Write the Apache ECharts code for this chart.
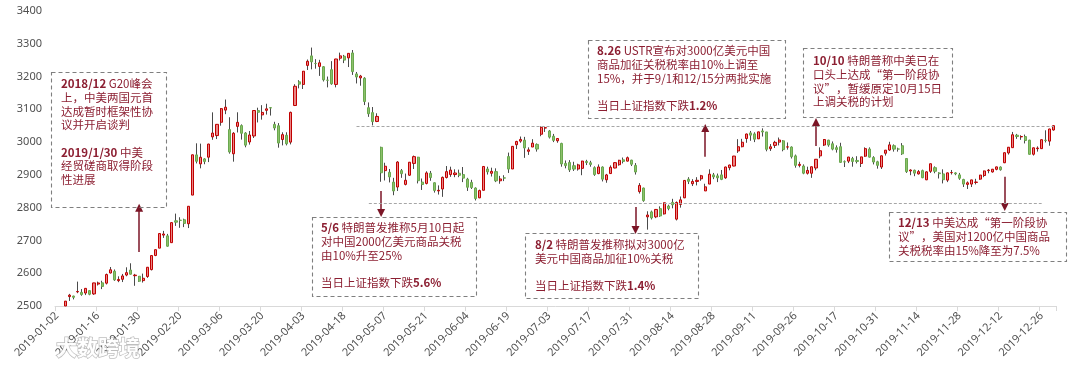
<!DOCTYPE html>
<html>
<head>
<meta charset="utf-8">
<script src="https://cdn.jsdelivr.net/npm/echarts@6/dist/echarts.min.js"></script>
<style>
html,body{margin:0;padding:0;background:#fff;}
#chart{width:1080px;height:366px;}
</style>
</head>
<body>
<div id="chart"></div>
<script>
// ---- data: Shanghai Composite daily candles, 2019 ----
const dates = [
'2019-01-02','2019-01-03','2019-01-04','2019-01-07','2019-01-08','2019-01-09','2019-01-10','2019-01-11','2019-01-14','2019-01-15',
'2019-01-16','2019-01-17','2019-01-18','2019-01-21','2019-01-22','2019-01-23','2019-01-24','2019-01-25','2019-01-28','2019-01-29',
'2019-01-30','2019-01-31','2019-02-01','2019-02-11','2019-02-12','2019-02-13','2019-02-14','2019-02-15','2019-02-18','2019-02-19',
'2019-02-20','2019-02-21','2019-02-22','2019-02-25','2019-02-26','2019-02-27','2019-02-28','2019-03-01','2019-03-04','2019-03-05',
'2019-03-06','2019-03-07','2019-03-08','2019-03-11','2019-03-12','2019-03-13','2019-03-14','2019-03-15','2019-03-18','2019-03-19',
'2019-03-20','2019-03-21','2019-03-22','2019-03-25','2019-03-26','2019-03-27','2019-03-28','2019-03-29','2019-04-01','2019-04-02',
'2019-04-03','2019-04-04','2019-04-08','2019-04-09','2019-04-10','2019-04-11','2019-04-12','2019-04-15','2019-04-16','2019-04-17',
'2019-04-18','2019-04-19','2019-04-22','2019-04-23','2019-04-24','2019-04-25','2019-04-26','2019-04-29','2019-04-30','2019-05-06',
'2019-05-07','2019-05-08','2019-05-09','2019-05-10','2019-05-13','2019-05-14','2019-05-15','2019-05-16','2019-05-17','2019-05-20',
'2019-05-21','2019-05-22','2019-05-23','2019-05-24','2019-05-27','2019-05-28','2019-05-29','2019-05-30','2019-05-31','2019-06-03',
'2019-06-04','2019-06-05','2019-06-06','2019-06-10','2019-06-11','2019-06-12','2019-06-13','2019-06-14','2019-06-17','2019-06-18',
'2019-06-19','2019-06-20','2019-06-21','2019-06-24','2019-06-25','2019-06-26','2019-06-27','2019-06-28','2019-07-01','2019-07-02',
'2019-07-03','2019-07-04','2019-07-05','2019-07-08','2019-07-09','2019-07-10','2019-07-11','2019-07-12','2019-07-15','2019-07-16',
'2019-07-17','2019-07-18','2019-07-19','2019-07-22','2019-07-23','2019-07-24','2019-07-25','2019-07-26','2019-07-29','2019-07-30',
'2019-07-31','2019-08-01','2019-08-02','2019-08-05','2019-08-06','2019-08-07','2019-08-08','2019-08-09','2019-08-12','2019-08-13',
'2019-08-14','2019-08-15','2019-08-16','2019-08-19','2019-08-20','2019-08-21','2019-08-22','2019-08-23','2019-08-26','2019-08-27',
'2019-08-28','2019-08-29','2019-08-30','2019-09-02','2019-09-03','2019-09-04','2019-09-05','2019-09-06','2019-09-09','2019-09-10',
'2019-09-11','2019-09-12','2019-09-16','2019-09-17','2019-09-18','2019-09-19','2019-09-20','2019-09-23','2019-09-24','2019-09-25',
'2019-09-26','2019-09-27','2019-09-30','2019-10-08','2019-10-09','2019-10-10','2019-10-11','2019-10-14','2019-10-15','2019-10-16',
'2019-10-17','2019-10-18','2019-10-21','2019-10-22','2019-10-23','2019-10-24','2019-10-25','2019-10-28','2019-10-29','2019-10-30',
'2019-10-31','2019-11-01','2019-11-04','2019-11-05','2019-11-06','2019-11-07','2019-11-08','2019-11-11','2019-11-12','2019-11-13',
'2019-11-14','2019-11-15','2019-11-18','2019-11-19','2019-11-20','2019-11-21','2019-11-22','2019-11-25','2019-11-26','2019-11-27',
'2019-11-28','2019-11-29','2019-12-02','2019-12-03','2019-12-04','2019-12-05','2019-12-06','2019-12-09','2019-12-10','2019-12-11',
'2019-12-12','2019-12-13','2019-12-16','2019-12-17','2019-12-18','2019-12-19','2019-12-20','2019-12-23','2019-12-24','2019-12-25',
'2019-12-26','2019-12-27','2019-12-30','2019-12-31'
];
const openV = [
2497.88,2461.78,2446.02,2528.70,2530.30,2543.10,2541.65,2539.55,2546.89,2536.89,
2566.95,2570.74,2569.62,2600.76,2606.10,2577.41,2581.50,2594.42,2609.78,2592.44,
2590.84,2577.42,2589.94,2611.00,2654.08,2676.55,2716.28,2714.01,2693.23,2760.02,
2761.77,2763.23,2751.00,2838.38,2961.00,2933.60,2948.78,2954.04,3015.94,3019.95,
3060.57,3097.68,3038.28,2964.42,3048.00,3050.46,3027.74,3000.38,3018.74,3096.35,
3083.08,3097.01,3105.00,3054.00,3050.00,3008.00,3021.00,3000.00,3111.66,3184.00,
3176.00,3234.00,3263.00,3240.00,3231.00,3230.00,3189.00,3221.00,3176.00,3256.00,
3262.00,3257.00,3272.00,3208.00,3196.00,3195.00,3105.00,3090.00,3063.00,2984.00,
2913.00,2908.00,2878.00,2863.00,2913.00,2871.00,2899.00,2935.00,2954.00,2878.00,
2874.00,2905.00,2876.00,2851.00,2857.00,2892.00,2901.00,2901.00,2905.00,2901.00,
2887.00,2877.00,2860.00,2830.00,2853.00,2918.00,2905.00,2910.00,2882.00,2891.00,
2956.00,2918.00,2992.00,3003.00,3006.00,2972.00,2985.00,2993.00,3024.00,3043.00,
3034.00,3018.00,3004.00,2996.00,2935.00,2938.00,2928.00,2918.00,2920.00,2941.00,
2937.00,2922.00,2904.00,2924.00,2885.00,2904.00,2921.00,2931.00,2946.00,2942.00,
2945.00,2929.00,2849.00,2860.00,2772.00,2787.00,2772.00,2797.00,2781.00,2805.00,
2816.00,2765.00,2810.00,2830.00,2887.00,2873.00,2880.00,2888.00,2851.00,2872.00,
2900.00,2897.00,2900.00,2891.00,2922.00,2927.00,2973.00,2986.00,3011.00,3028.00,
3025.00,3010.00,3034.00,3031.00,2980.00,2990.00,3000.00,3004.00,2985.00,2985.00,
2958.00,2929.00,2927.00,2905.00,2905.00,2921.00,2958.00,2991.00,3006.00,2995.00,
2983.00,2986.00,2940.00,2942.00,2950.00,2944.00,2935.00,2957.00,2979.00,2953.00,
2940.00,2924.00,2966.00,2976.00,2989.00,2979.00,2989.00,2950.00,2912.00,2914.00,
2903.00,2913.00,2885.00,2911.00,2922.00,2906.00,2903.00,2884.00,2907.00,2906.00,
2900.00,2886.00,2871.00,2872.00,2877.00,2887.00,2898.00,2913.00,2909.00,2917.00,
2924.00,2937.00,2967.00,2983.00,3021.00,3016.00,3017.00,3006.00,2963.00,2980.00,
2980.00,3006.00,3003.00,3037.00
];
const closeV = [
2465.29,2464.36,2514.87,2533.09,2526.46,2544.34,2535.10,2553.83,2535.77,2570.42,
2570.34,2559.64,2596.01,2610.51,2579.70,2581.00,2591.69,2601.72,2596.98,2594.25,
2575.58,2584.57,2618.23,2653.90,2671.89,2721.07,2719.70,2682.39,2754.36,2755.65,
2761.22,2751.80,2804.23,2961.28,2941.52,2953.82,2940.95,2994.01,3027.58,3054.25,
3102.10,3106.42,2969.86,3026.99,3060.31,3026.95,2990.69,3021.75,3096.42,3090.98,
3090.64,3101.46,3104.15,3043.03,2997.10,3022.72,2994.94,3090.76,3170.36,3176.82,
3216.30,3246.57,3244.81,3239.66,3241.93,3189.96,3188.63,3177.79,3253.60,3263.12,
3250.20,3270.80,3215.04,3198.59,3201.61,3123.83,3086.40,3062.50,3078.34,2906.46,
2926.39,2893.76,2850.95,2939.21,2903.71,2883.61,2938.68,2955.71,2882.30,2870.60,
2905.97,2891.70,2852.52,2852.99,2892.38,2909.91,2914.70,2905.81,2898.70,2890.08,
2862.28,2861.42,2827.80,2852.13,2925.72,2909.38,2910.74,2881.97,2887.62,2890.16,
2917.80,2987.12,3001.98,3008.15,2982.07,2976.28,2996.79,2978.88,3044.90,3043.94,
3015.26,3005.25,3011.06,2933.36,2928.23,2915.30,2917.76,2930.55,2942.19,2937.62,
2931.69,2901.13,2924.20,2886.97,2899.94,2923.28,2937.36,2944.54,2941.01,2952.34,
2932.51,2908.77,2867.84,2821.50,2777.56,2768.68,2794.55,2774.75,2814.99,2797.26,
2808.91,2815.80,2823.82,2883.10,2880.33,2880.00,2883.44,2897.43,2863.57,2902.19,
2893.76,2890.92,2886.24,2924.11,2930.15,2957.41,2985.86,2999.60,3024.74,3021.20,
3008.81,3031.24,3030.75,2978.12,2985.66,2999.28,3006.45,2977.08,2985.34,2955.43,
2929.09,2932.17,2905.19,2913.57,2924.86,2947.71,2973.66,3007.88,2991.05,2978.71,
2977.33,2938.14,2939.62,2954.38,2940.92,2940.91,2954.93,2980.05,2954.18,2939.32,
2929.06,2958.20,2975.49,2991.56,2978.60,2978.71,2964.18,2909.97,2914.82,2905.24,
2909.87,2891.34,2909.20,2933.99,2911.05,2903.64,2885.29,2906.17,2907.06,2903.19,
2889.69,2871.98,2875.81,2884.70,2878.12,2899.47,2912.01,2914.48,2917.32,2924.42,
2915.70,2967.68,2984.39,3022.42,3017.04,3017.07,3004.94,2962.75,2982.68,2981.88,
3007.35,3005.04,3040.02,3050.12
];
const lowV = [
2456.42,2440.91,2440.91,2515.51,2520.17,2539.05,2531.25,2533.36,2532.81,2534.02,
2562.51,2551.55,2565.72,2599.13,2576.61,2572.65,2573.06,2590.69,2596.38,2561.65,
2573.75,2571.55,2585.85,2608.53,2652.02,2676.55,2707.71,2680.89,2693.23,2744.40,
2738.47,2740.71,2737.75,2838.38,2934.98,2920.01,2932.48,2939.08,3006.98,3009.32,
3050.09,3085.27,2964.82,2940.35,3029.40,3007.68,2984.16,2992.36,3012.55,3060.00,
3068.51,3084.00,3081.00,3036.00,2983.00,2990.00,2990.00,2993.00,3110.00,3164.00,
3162.00,3220.00,3222.00,3224.00,3202.00,3185.00,3167.00,3175.00,3167.00,3249.00,
3241.00,3229.00,3205.00,3179.00,3172.00,3113.00,3077.00,3051.00,3061.00,2879.00,
2883.00,2877.00,2838.00,2851.00,2891.00,2868.00,2897.00,2918.00,2874.00,2854.00,
2871.00,2882.00,2846.00,2840.00,2833.00,2889.00,2894.00,2893.00,2893.00,2878.00,
2851.00,2857.00,2822.00,2829.00,2853.00,2901.00,2895.00,2878.00,2873.00,2881.00,
2906.00,2918.00,2979.00,2998.00,2952.00,2961.00,2985.00,2971.00,3018.00,3031.00,
3011.00,3000.00,2998.00,2925.00,2920.00,2909.00,2912.00,2913.00,2899.00,2930.00,
2925.00,2897.00,2902.00,2880.00,2876.00,2903.00,2920.00,2928.00,2935.00,2941.00,
2927.00,2901.00,2843.00,2818.00,2733.00,2764.00,2768.00,2772.00,2779.00,2792.00,
2798.00,2761.00,2800.00,2829.00,2872.00,2866.00,2868.00,2882.00,2851.00,2872.00,
2887.00,2878.00,2884.00,2888.00,2914.00,2926.00,2967.00,2984.00,2998.00,3004.00,
3000.00,3010.00,3017.00,2972.00,2973.00,2982.00,2990.00,2972.00,2977.00,2950.00,
2922.00,2923.00,2902.00,2901.00,2891.00,2914.00,2951.00,2988.00,2986.00,2975.00,
2968.00,2937.00,2924.00,2936.00,2925.00,2935.00,2924.00,2955.00,2953.00,2932.00,
2919.00,2918.00,2959.00,2973.00,2971.00,2971.00,2961.00,2906.00,2899.00,2896.00,
2901.00,2890.00,2884.00,2906.00,2905.00,2889.00,2874.00,2878.00,2901.00,2899.00,
2885.00,2863.00,2857.00,2863.00,2871.00,2885.00,2893.00,2905.00,2907.00,2914.00,
2913.00,2936.00,2962.00,2983.00,3010.00,3007.00,2996.00,2962.00,2959.00,2971.00,
2980.00,2999.00,2989.00,3035.00
];
const highV = [
2500.28,2488.48,2515.32,2536.98,2531.35,2574.41,2551.67,2554.79,2548.40,2570.82,
2574.43,2577.01,2598.88,2618.98,2611.38,2590.51,2597.86,2618.06,2630.30,2598.01,
2591.51,2598.81,2618.24,2653.96,2671.96,2721.07,2729.16,2720.00,2755.22,2781.84,
2770.75,2766.34,2804.23,2961.80,2996.30,2995.31,2950.90,2994.98,3090.80,3055.25,
3103.83,3129.94,3075.87,3030.51,3090.98,3054.11,3030.54,3033.95,3096.42,3105.00,
3112.71,3117.00,3107.00,3062.00,3058.00,3030.00,3030.00,3093.00,3176.62,3189.00,
3216.30,3252.00,3288.45,3253.00,3251.00,3232.00,3200.00,3247.00,3254.00,3273.00,
3266.00,3271.00,3281.00,3214.00,3205.00,3198.00,3121.00,3107.00,3088.00,2986.00,
2937.00,2918.00,2891.00,2942.00,2918.00,2904.00,2939.00,2959.00,2955.00,2889.00,
2911.00,2912.00,2877.00,2868.00,2895.00,2927.00,2925.00,2917.00,2916.00,2924.00,
2891.00,2885.00,2862.00,2855.00,2927.00,2925.00,2922.00,2920.00,2897.00,2899.00,
2968.00,2988.00,3004.00,3017.00,3016.00,2984.00,3009.00,2996.00,3048.00,3047.00,
3037.00,3025.00,3012.00,2998.00,2944.00,2945.00,2940.00,2934.00,2943.00,2946.00,
2943.00,2926.00,2932.00,2926.00,2903.00,2929.00,2939.00,2946.00,2953.00,2956.00,
2946.00,2936.00,2875.00,2861.00,2789.00,2791.00,2796.00,2804.00,2815.00,2809.00,
2827.00,2819.00,2834.00,2884.00,2893.00,2887.00,2893.00,2900.00,2873.00,2917.00,
2906.00,2904.00,2915.00,2925.00,2931.00,2958.00,3009.00,3010.00,3026.00,3034.00,
3030.00,3032.00,3042.00,3031.00,2994.00,3004.00,3014.00,3006.00,2999.00,2987.00,
2962.00,2940.00,2932.00,2925.00,2925.00,2948.00,2984.00,3009.00,3007.00,3002.00,
2990.00,2998.00,2944.00,2955.00,2955.00,2957.00,2955.00,2984.00,2984.00,2957.00,
2943.00,2959.00,2976.00,3001.00,2993.00,2983.00,2997.00,2951.00,2917.00,2916.00,
2915.00,2916.00,2911.00,2934.00,2926.00,2908.00,2917.00,2907.00,2915.00,2908.00,
2906.00,2888.00,2880.00,2885.00,2888.00,2900.00,2913.00,2918.00,2918.00,2925.00,
2926.00,2968.00,2985.00,3031.00,3025.00,3021.00,3023.00,3007.00,2983.00,2987.00,
3008.00,3036.00,3041.00,3051.00
];
const yTicks = [2500, 2600, 2700, 2800, 2900, 3000, 3100, 3200, 3300, 3400];

// event arrows: [category index, from value, to value]
const arrowIdx  = [20, 79, 141, 158, 185, 231];
const arrowFrom = [2665, 2851, 2802, 2955, 2988, 2894];
const arrowTo   = [2800, 2784, 2732, 3043, 3061, 2802];
// dashed range lines
const refStart = [73, 76];
const refEnd   = [243, 240];
const refValue = [3047, 2814];

// annotation texts ({b|...} = bold)
const noteTexts = [
  '{b|2018/12} G20峰会\n上，中美两国元首\n达成暂时框架性协\n议并开启谈判\n\n{b|2019/1/30} 中美\n经贸磋商取得阶段\n性进展',
  '{b|5/6} 特朗普发推称5月10日起\n对中国2000亿美元商品关税\n由10%升至25%\n\n当日上证指数下跌{b|5.6%}',
  '{b|8/2} 特朗普发推称拟对3000亿\n美元中国商品加征10%关税\n\n当日上证指数下跌{b|1.4%}',
  '{b|8.26} USTR宣布对3000亿美元中国\n商品加征关税税率由10%上调至\n15%，并于9/1和12/15分两批实施\n\n当日上证指数下跌{b|1.2%}',
  '{b|10/10} 特朗普称中美已在\n口头上达成“第一阶段协\n议”，暂缓原定10月15日\n上调关税的计划',
  '{b|12/13} 中美达成“第一阶段协\n议”，美国对1200亿中国商品\n关税税率由15%降至为7.5%'
];
const watermarkText = '大数跨境';

// ---- layout of annotation boxes (pixels) ----
const boxLayout = [
  {x: 51,  y: 72,  w: 115, h: 135, tx: 61,  ty: 77},
  {x: 312, y: 217, w: 164, h: 79,  tx: 321, ty: 221},
  {x: 525, y: 233, w: 173, h: 65,  tx: 535, ty: 238},
  {x: 588, y: 40,  w: 197, h: 78,  tx: 597, ty: 44},
  {x: 803, y: 48,  w: 149, h: 69,  tx: 813, ty: 54},
  {x: 889, y: 212, w: 177, h: 49,  tx: 898, ty: 216}
];

const noteColor = '#8C1F32';
const cjk = '"Noto Sans CJK SC","Noto Sans",sans-serif';
const yMin = yTicks[0];

// build candles; parts below the axis minimum are cut at the axis (as the plot area clips them)
const wickData = [];
const bodyData = [];
dates.forEach((d, i) => {
  const top = Math.max(openV[i], closeV[i]);
  if (top < yMin) { wickData.push('-'); bodyData.push('-'); return; }
  const o = Math.max(openV[i], yMin), c = Math.max(closeV[i], yMin);
  const l = Math.max(lowV[i], yMin), h = highV[i];
  wickData.push([o, c, l, h]);
  bodyData.push([o, c, Math.min(o, c), Math.max(o, c)]);
});

const markData = [];
arrowIdx.forEach((ix, k) => {
  markData.push([
    {coord: [ix, arrowFrom[k]], symbol: 'none'},
    {coord: [ix, arrowTo[k]], symbol: 'triangle', symbolSize: [8, 8],
     lineStyle: {color: '#7B1526', width: 1.5, type: 'solid'}}
  ]);
});
refValue.forEach((v, k) => {
  markData.push([
    {coord: [refStart[k], v], symbol: 'none'},
    {coord: [refEnd[k], v], symbol: 'none', lineStyle: {color: '#A6A6A6', width: 1, type: [3, 2]}}
  ]);
});

const graphics = [];
boxLayout.forEach((b, k) => {
  graphics.push({
    type: 'rect', silent: true, z: 50,
    shape: {x: b.x + 0.5, y: b.y + 0.5, width: b.w, height: b.h},
    style: {fill: 'rgba(255,255,255,0)', stroke: '#7F7F7F', lineWidth: 1.1, lineDash: [4, 3]}
  });
  graphics.push({
    type: 'text', silent: true, z: 51,
    x: b.tx, y: b.ty,
    style: {
      text: noteTexts[k], fill: noteColor, fontSize: 11.5, fontFamily: cjk,
      lineHeight: 13.7, verticalAlign: 'top', align: 'left',
      rich: {b: {fontWeight: 'bold', fontSize: 11.5, fontFamily: cjk, lineHeight: 13.7, fill: noteColor, color: noteColor}}
    }
  });
});
graphics.push({
  type: 'text', silent: true, z: 60, x: 56, y: 337,
  style: {text: watermarkText, fontSize: 21, fontFamily: cjk, fontWeight: 'bold',
          fill: 'rgba(255,255,255,0.97)', stroke: 'rgba(110,110,110,0.45)', lineWidth: 1.5,
          shadowColor: 'rgba(0,0,0,0.45)', shadowBlur: 4, verticalAlign: 'top'}
});

const chart = echarts.init(document.getElementById('chart'), null, {renderer: 'canvas'});
chart.setOption({
  animation: false,
  backgroundColor: '#ffffff',
  grid: {left: 55, right: 24, top: 11, bottom: 60, containLabel: false},
  xAxis: {
    type: 'category', data: dates, boundaryGap: true,
    axisLine: {lineStyle: {color: '#D9D9D9', width: 1}},
    axisTick: {show: true, interval: 9, length: 5, lineStyle: {color: '#D9D9D9'}},
    axisLabel: {interval: 9, rotate: 45, fontSize: 11, color: '#505050', margin: 8, fontFamily: '"Noto Sans",sans-serif'},
    splitLine: {show: false}
  },
  yAxis: {
    type: 'value', min: yTicks[0], max: yTicks[yTicks.length - 1], interval: 100,
    axisLine: {show: false}, axisTick: {show: false}, splitLine: {show: false},
    axisLabel: {fontSize: 11, color: '#505050', margin: 13, fontFamily: '"Noto Sans",sans-serif',
                formatter: v => String(v)}
  },
  series: [
    {
      type: 'candlestick', name: 'wick', data: wickData, barWidth: 1, clip: true, silent: true,
      itemStyle: {color: '#4A4A4A', color0: '#4A4A4A', borderColor: '#4A4A4A', borderColor0: '#4A4A4A', borderWidth: 1}
    },
    {
      type: 'candlestick', name: 'body', data: bodyData, barWidth: 2.6, clip: true, silent: true,
      itemStyle: {color: '#E98585', color0: '#8DC16B', borderColor: '#C00000', borderColor0: '#6AA84F', borderWidth: 1},
      markLine: {silent: true, symbol: ['none', 'none'], label: {show: false}, animation: false,
                 lineStyle: {color: '#7B1526', width: 1.5, type: 'solid'}, data: markData}
    }
  ],
  graphic: graphics
});
</script>
</body>
</html>
